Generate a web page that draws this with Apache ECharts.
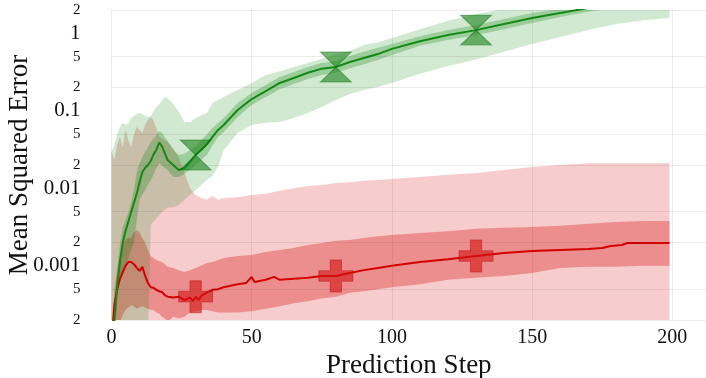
<!DOCTYPE html>
<html>
<head>
<meta charset="utf-8">
<script src="https://cdn.jsdelivr.net/npm/echarts@6/dist/echarts.min.js"></script>
<style>
    html, body { margin: 0; padding: 0; background: #fff; }
    #main { width: 706px; height: 378px; }
</style>
</head>
<body>
<div id="main"></div>
<script>
// prediction steps shared by the bands and the green line
var steps = [0, 1, 2, 3, 4, 5, 6, 7, 8, 9, 10, 11, 12, 13, 14, 15, 16, 17, 18, 19, 20,
    22, 24, 26, 28, 30, 32, 34, 36, 38, 40, 45, 50, 55, 60, 65, 70, 75, 80, 85, 90, 95, 100,
    110, 120, 130, 140, 150, 160, 170, 180, 190, 199];

// green model
var greenMean = [0.0001, 0.00019, 0.00053, 0.00112, 0.00197, 0.0028, 0.0037, 0.0049, 0.0065, 0.0085, 0.012,
    0.0163, 0.0183, 0.020, 0.0225, 0.0274, 0.0313, 0.039, 0.035, 0.0285, 0.0232,
    0.020, 0.0172, 0.0183, 0.0219, 0.027, 0.0313, 0.037, 0.046, 0.0566, 0.0656, 0.1025, 0.142, 0.18, 0.229,
    0.265, 0.31, 0.35, 0.368, 0.427, 0.48, 0.54, 0.63, 0.79, 0.95, 1.10, 1.32, 1.58, 1.83, 2.12, 2.4, 2.7, 3.0];
var greenInnerLo = [0.0001, 0.0001, 0.00042, 0.0006, 0.00076, 0.001, 0.00126, 0.0016, 0.002, 0.0039, 0.007,
    0.0082, 0.0095, 0.011, 0.0128, 0.015, 0.0183, 0.0212, 0.020, 0.0183, 0.0172,
    0.014, 0.014, 0.0154, 0.0172, 0.02, 0.0232, 0.027, 0.036, 0.046, 0.053, 0.083, 0.119, 0.151, 0.19,
    0.222, 0.257, 0.29, 0.31, 0.355, 0.40, 0.453, 0.525, 0.69, 0.82, 0.95, 1.13, 1.36, 1.62, 1.9, 2.15, 2.4, 2.65];
var greenInnerHi = [0.0001, 0.0003, 0.00088, 0.00186, 0.0031, 0.0039, 0.0048, 0.0065, 0.0095, 0.0163, 0.021,
    0.0254, 0.0294, 0.034, 0.0396, 0.044, 0.0488, 0.055, 0.052, 0.046, 0.041,
    0.0313, 0.0269, 0.028, 0.0313, 0.035, 0.041, 0.050, 0.06, 0.07, 0.081, 0.126, 0.17, 0.216, 0.273,
    0.317, 0.368, 0.415, 0.44, 0.51, 0.58, 0.65, 0.73, 0.92, 1.1, 1.28, 1.53, 1.83, 2.07, 2.4, 2.7, 3.0, 3.3];
var greenOuterLo = [0.0001, 0.0001, 0.0001, 0.0001, 0.0001, 0.0001, 0.0001, 0.0001, 0.0001, 0.0001, 0.0001,
    0.0001, 0.0001, 0.0001, 0.0034, 0.0037, 0.0041, 0.0045, 0.005, 0.0053, 0.0056,
    0.0057, 0.0061, 0.0071, 0.0082, 0.0095, 0.011, 0.0128, 0.0145, 0.019, 0.031, 0.052, 0.0656, 0.07, 0.072,
    0.081, 0.094, 0.112, 0.138, 0.165, 0.186, 0.203, 0.229, 0.30, 0.38, 0.46, 0.58, 0.73, 0.9, 1.1, 1.32, 1.47, 1.58];
var greenOuterHi = [0.03, 0.036, 0.049, 0.062, 0.07, 0.066, 0.068, 0.081, 0.086, 0.091, 0.094,
    0.091, 0.086, 0.083, 0.086, 0.1, 0.112, 0.12, 0.138, 0.151, 0.146,
    0.122, 0.097, 0.072, 0.072, 0.081, 0.088, 0.094, 0.126, 0.138, 0.151, 0.186, 0.229, 0.29, 0.325,
    0.368, 0.415, 0.47, 0.54, 0.59, 0.707, 0.77, 0.87, 1.13, 1.45, 1.77, 2.06, 2.4, 2.8, 3.2, 3.6, 4.0, 4.4];

// red model
var redSteps = [0, 1, 2, 3, 4, 5, 6, 7, 8, 9, 10, 11, 12, 13, 14, 15, 16, 17, 18, 19, 20,
    22, 24, 26, 28, 29, 30, 31, 32, 34, 36, 38, 40, 45, 48, 50, 51, 55, 58, 60,
    65, 70, 75, 80, 85, 90, 95, 100, 110, 120, 130, 140, 150, 160, 170, 175, 178, 182, 184, 190, 199];
var redMean = [0.0001, 0.00031, 0.00049, 0.00068, 0.00083, 0.001, 0.00112, 0.00112, 0.00105, 0.00094, 0.00086,
    0.00097, 0.00074, 0.0006, 0.00053, 0.00052, 0.00049, 0.00047, 0.00046, 0.00042, 0.0004,
    0.00039, 0.0004, 0.00036, 0.00039, 0.00035, 0.0004, 0.00036, 0.00041, 0.00045, 0.00049, 0.0005, 0.00053,
    0.00058, 0.0006, 0.00072, 0.00062, 0.00066, 0.00072, 0.00066,
    0.00068, 0.0007, 0.00074, 0.00074, 0.00081, 0.00088, 0.00094, 0.001, 0.00112, 0.00122, 0.00134, 0.00146,
    0.00155, 0.0016, 0.00165, 0.0017, 0.0018, 0.00186, 0.00197, 0.00197, 0.00197];
var redInnerLo = [0.0001, 0.0001, 0.0001, 0.00019, 0.00023, 0.00027, 0.00029, 0.00031, 0.0003, 0.00028, 0.00029,
    0.0003, 0.00029, 0.00028, 0.00027, 0.00027, 0.00025, 0.00024, 0.00022, 0.00021, 0.00019,
    0.00022, 0.00021, 0.00022, 0.00025, 0.00026, 0.00027, 0.00027, 0.00026, 0.00025, 0.00025, 0.00025, 0.00026,
    0.00028, 0.0003, 0.00033, 0.00035, 0.00038, 0.0004, 0.00045, 0.00047, 0.0005, 0.00053, 0.00058, 0.00066,
    0.0007, 0.00074, 0.00081, 0.00094, 0.00097, 0.00097, 0.001, 0.001];
var redInnerHi = [0.0001, 0.00049, 0.00088, 0.00138, 0.00186, 0.00215, 0.0023, 0.0023, 0.0027, 0.0029, 0.0027,
    0.00229, 0.00197, 0.0016, 0.00134, 0.00126, 0.00119, 0.00115, 0.00112, 0.00105, 0.00097,
    0.00094, 0.00088, 0.00083, 0.00088, 0.00094, 0.001, 0.00109, 0.00112, 0.00119, 0.00126, 0.00134, 0.00138,
    0.00151, 0.0016, 0.0017, 0.00186, 0.00197, 0.0021, 0.00215, 0.00229, 0.0024, 0.0025, 0.00265, 0.0028,
    0.003, 0.0031, 0.00317, 0.0033, 0.0035, 0.00367, 0.0038, 0.0038];
// outer red band runs down below the axis floor, so only its top is kept
var redOuterHi = [0.03, 0.023, 0.036, 0.046, 0.034, 0.057, 0.042, 0.034, 0.049, 0.062, 0.057,
    0.052, 0.066, 0.076, 0.083, 0.074, 0.06, 0.047, 0.044, 0.042, 0.04,
    0.033, 0.025, 0.016, 0.01, 0.0082, 0.0075, 0.0071, 0.008, 0.0071, 0.0075, 0.0077, 0.0082,
    0.0085, 0.0093, 0.01, 0.0107, 0.011, 0.0117, 0.012, 0.0125, 0.0128, 0.0132, 0.014, 0.015,
    0.0158, 0.0172, 0.0188, 0.02, 0.021, 0.021, 0.021, 0.021];

// marker positions
var markerSteps = [30, 80, 130];

// y tick labels (log axis)
var yTickValues = [2, 1, 0.5, 0.2, 0.1, 0.05, 0.02, 0.01, 0.005, 0.002, 0.001, 0.0005, 0.0002];
var yTickLabels = ['2', '1', '5', '2', '0.1', '5', '2', '0.01', '5', '2', '0.001', '5', '2'];
var yTickMajor = [false, true, false, false, true, false, false, true, false, false, true, false, false];

var FONT = '"Liberation Serif", "DejaVu Serif", serif';
var GREEN = '#148a14';
var RED = '#d40000';

function pairs(xs, ys) {
    return xs.map(function (x, i) { return [x, ys[i]]; });
}

// one polygon per band, drawn through the axes
function bandSeries(name, lo, hi, color) {
    return {
        name: name,
        type: 'custom',
        clip: true,
        silent: true,
        data: steps.map(function (s, i) { return [s, lo[i], hi[i]]; }),
        encode: {x: 0, y: [1, 2]},
        renderItem: function (params, api) {
            if (params.dataIndex !== 0) return null;
            var pts = [], i;
            for (i = 0; i < steps.length; i++) pts.push(api.coord([steps[i], hi[i]]));
            for (i = steps.length - 1; i >= 0; i--) pts.push(api.coord([steps[i], lo[i]]));
            return {type: 'polygon', shape: {points: pts}, style: {fill: color}};
        }
    };
}

function markerData(xs, ys) {
    return markerSteps.map(function (s) { return [s, ys[xs.indexOf(s)]]; });
}

// horizontal grid lines + tick labels on the log axis
var gridMarks = yTickValues.map(function (v, i) {
    return {
        yAxis: v,
        lineStyle: {color: yTickMajor[i] ? 'rgba(0,0,0,0)' : 'rgba(0,0,0,0.07)', width: 1, type: 'solid'},
        label: {
            show: true,
            position: 'start',
            distance: 31,
            formatter: yTickLabels[i],
            color: '#111',
            fontFamily: FONT,
            fontSize: yTickMajor[i] ? 21 : 15
        }
    };
});

var myChart = echarts.init(document.getElementById('main'), null, {renderer: 'canvas'});

var option = {
    animation: false,
    backgroundColor: '#fff',
    grid: {left: 111.5, right: 0, top: 10, bottom: 58, containLabel: false, outerBoundsMode: 'none'},
    xAxis: {
        type: 'value',
        min: 0,
        max: 212,
        interval: 50,
        name: 'Prediction Step',
        nameLocation: 'middle',
        nameGap: 27,
        nameTextStyle: {fontFamily: FONT, fontSize: 27, color: '#111'},
        axisLine: {show: false},
        axisTick: {show: false},
        axisLabel: {fontFamily: FONT, fontSize: 20, color: '#111', margin: 8, showMaxLabel: false},
        splitLine: {show: true, lineStyle: {color: '#ececec', width: 1}}
    },
    yAxis: {
        type: 'log',
        logBase: 10,
        min: 0.0002,
        max: 2,
        name: 'Mean Squared Error',
        nameLocation: 'middle',
        nameGap: 78,
        nameTextStyle: {fontFamily: FONT, fontSize: 27, color: '#111'},
        axisLine: {show: false},
        axisTick: {show: false},
        axisLabel: {show: false},
        splitLine: {show: false}
    },
    series: [
        {
            name: 'red outer',
            type: 'line',
            data: pairs(steps, redOuterHi),
            symbol: 'none',
            silent: true,
            lineStyle: {width: 0, opacity: 0},
            areaStyle: {color: 'rgba(212,0,0,0.2)', origin: 'start', opacity: 1},
            markLine: {
                silent: true,
                precision: 6,
                symbol: ['none', 'none'],
                animation: false,
                data: gridMarks
            },
            z: 1
        },
        bandSeries('red inner', redInnerLo, redInnerHi, 'rgba(212,0,0,0.3)'),
        bandSeries('green outer', greenOuterLo, greenOuterHi, 'rgba(0,128,0,0.18)'),
        bandSeries('green inner', greenInnerLo, greenInnerHi, 'rgba(0,128,0,0.25)'),
        {
            name: 'red mean',
            type: 'line',
            data: pairs(redSteps, redMean),
            symbol: 'none',
            lineStyle: {color: RED, width: 2}
        },
        {
            name: 'green mean',
            type: 'line',
            data: pairs(steps, greenMean),
            symbol: 'none',
            lineStyle: {color: GREEN, width: 2}
        },
        {
            name: 'red markers',
            type: 'scatter',
            data: markerData(redSteps, redMean),
            symbol: 'path://M-1,-3L1,-3L1,-1L3,-1L3,1L1,1L1,3L-1,3L-1,1L-3,1L-3,-1L-1,-1Z',
            symbolSize: [34, 32],
            itemStyle: {color: 'rgba(212,20,20,0.75)', borderColor: 'rgba(180,0,0,0.5)', borderWidth: 1},
            z: 5
        },
        {
            name: 'green markers',
            type: 'scatter',
            data: markerData(steps, greenMean),
            symbol: 'path://M-1,-1L1,-1L0,0L1,1L-1,1L0,0Z',
            symbolSize: [31, 30],
            itemStyle: {color: 'rgba(20,128,20,0.72)', borderColor: 'rgba(0,100,0,0.5)', borderWidth: 1},
            z: 5
        }
    ]
};

myChart.setOption(option);
</script>
</body>
</html>
